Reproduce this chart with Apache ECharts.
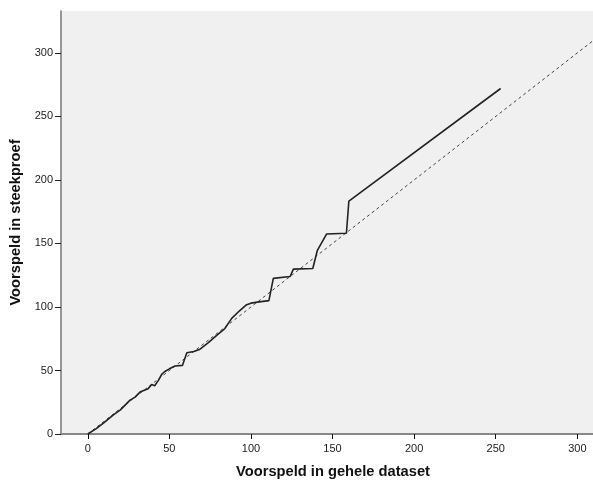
<!DOCTYPE html>
<html>
<head>
<meta charset="utf-8">
<script src="https://cdn.jsdelivr.net/npm/echarts@6/dist/echarts.min.js"></script>
<style>
  html, body { margin: 0; padding: 0; background: #fff; }
  #chart { width: 593px; height: 484px; }
</style>
</head>
<body>
<div id="chart"></div>
<script>
// voorspeld in gehele dataset (x) tegen voorspeld in steekproef (y)
var xValues = [0, 5, 10, 15.7, 20, 25.9, 29, 32, 37, 39.2, 41, 43.3, 45.3, 47, 50, 53.5, 58, 60.7, 65, 68.8,
  73.9, 79, 84, 88.2, 93, 97, 100, 105, 111, 113.7, 124, 126, 137.9, 140.7, 146.4, 158.5, 160, 253];
var yValues = [0, 4, 9, 15, 19, 26.7, 29, 33, 35.7, 38.9, 38, 42.2, 47, 49, 51.3, 53.5, 54, 64, 65, 66.8,
  72, 77.7, 83, 91, 97, 101.5, 103, 104, 105, 122.5, 124, 129.8, 130.3, 144.6, 157.5, 158, 183.4, 272];
// referentielijn y = x
var refLine = [[0, 0], [310, 310]];
var xTicks = [0, 50, 100, 150, 200, 250, 300];
var yTicks = [0, 50, 100, 150, 200, 250, 300];

var points = xValues.map(function (x, i) { return [x, yValues[i]]; });

var chart = echarts.init(document.getElementById('chart'));
var labelFont = { fontFamily: 'Liberation Sans, Arial, sans-serif', fontSize: 11, color: '#222' };
var nameFont = { fontFamily: 'Liberation Sans, Arial, sans-serif', fontSize: 14.7, fontWeight: 'bold', color: '#111' };

chart.setOption({
  animation: false,
  grid: {
    left: 61, right: 0, top: 11, bottom: 45,
    show: true, backgroundColor: '#f0f0f0', borderWidth: 0
  },
  xAxis: [{
    type: 'value',
    min: -16.4,
    max: 309.6,
    name: 'Voorspeld in gehele dataset',
    nameLocation: 'middle',
    nameGap: 30,
    nameTextStyle: Object.assign({ padding: [0, 0, 0, 12] }, nameFont),
    axisLine: { show: true, onZero: false, lineStyle: { color: '#111', width: 1 } },
    axisTick: { show: true, length: 5, customValues: xTicks, lineStyle: { color: '#111' } },
    axisLabel: Object.assign({ margin: 9, customValues: xTicks }, labelFont),
    splitLine: { show: false }
  }, {
    type: 'value',
    position: 'top',
    min: -16.4,
    max: 309.6,
    axisLine: { show: true, lineStyle: { color: '#888', width: 2 } },
    axisTick: { show: false },
    axisLabel: { show: false },
    splitLine: { show: false }
  }],
  yAxis: {
    type: 'value',
    min: 0,
    max: 333,
    name: 'Voorspeld in steekproef',
    nameLocation: 'middle',
    nameGap: 38,
    nameTextStyle: nameFont,
    axisLine: { show: true, onZero: false, lineStyle: { color: '#777', width: 1.5 } },
    axisTick: { show: true, length: 6, customValues: yTicks, lineStyle: { color: '#222' } },
    axisLabel: Object.assign({ margin: 8, customValues: yTicks }, labelFont),
    splitLine: { show: false }
  },
  series: [{
    type: 'line',
    data: refLine,
    showSymbol: false,
    silent: true,
    lineStyle: { color: '#444', width: 1, type: [3, 3] }
  }, {
    type: 'line',
    data: points,
    showSymbol: false,
    lineStyle: { color: '#222', width: 1.6 }
  }]
});
</script>
</body>
</html>
